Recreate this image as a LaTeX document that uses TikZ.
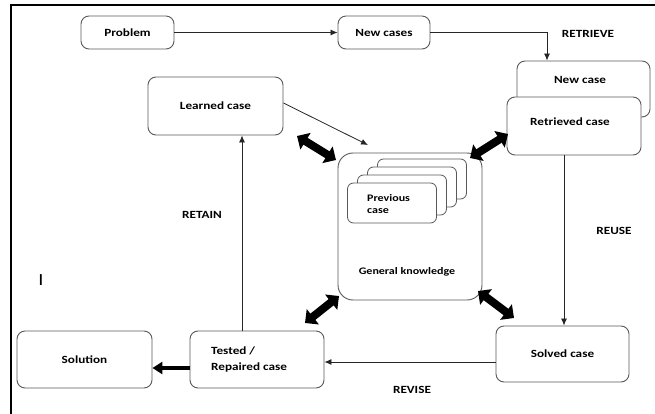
\documentclass[tikz,border=0pt]{standalone}
\usepackage{fontspec}
\setmainfont{Carlito}[FakeStretch=1.2]
\usetikzlibrary{arrows.meta,calc}
\begin{document}
\begin{tikzpicture}[x=1pt,y=-1pt,
  box/.style={draw=black!65, line width=0.9pt, rounded corners=8pt, fill=white,
    font=\fontsize{11}{13}\selectfont\bfseries, inner sep=0pt},
  card/.style={draw=black!65, line width=0.8pt, rounded corners=6pt, fill=white,
    minimum width=89pt, minimum height=40pt, inner sep=0pt},
  lbl/.style={font=\fontsize{11}{13}\selectfont\bfseries, inner sep=0pt},
  small/.style={font=\fontsize{10}{12}\selectfont\bfseries, inner sep=0pt, align=left},
  conn/.style={draw=black!85, line width=0.8pt, -{Latex[length=7pt,width=6pt]}},
  dbl/.style={line width=8pt, {Triangle[length=10pt,width=19pt]}-{Triangle[length=10pt,width=19pt]}},
]
\useasboundingbox (0,0) rectangle (655,414);
\fill[white] (0,0) rectangle (655,414);
\draw[line width=2pt] (655,5.5) -- (10.5,5.5) -- (10.5,414);

% boxes
\node[box, minimum width=93pt, minimum height=33pt] (problem) at (127.5,32.5) {Problem};
\node[box, minimum width=92pt, minimum height=33pt] (newcases) at (384,32.5) {New cases};
\node[box, minimum width=133pt, minimum height=56pt] (newcase) at (583.5,89) {};
\node[lbl] (newcasetxt) at (580,80) {New case};
\node[box, minimum width=134pt, minimum height=58pt] (retrieved) at (574,126) {};
\node[lbl] (retrievedtxt) at (570,122) {Retrieved case};
\node[box, minimum width=135pt, minimum height=58pt] (learned) at (215.5,106) {Learned case};
\node[box, minimum width=144pt, minimum height=147pt, rounded corners=15pt] (gk) at (410,226.5) {};
\node[card] (card4) at (422,179) {};
\node[card] (card3) at (412,187) {};
\node[card] (card2) at (402,195) {};
\node[card] (card1) at (392,203) {};
\node[small, anchor=west] (prev) at (367,204) {Previous\\case};
\node[small] (gktxt) at (407,272) {General knowledge};
\node[box, minimum width=133pt, minimum height=56pt] (solved) at (562.5,354) {Solved case};
\node[box, minimum width=134pt, minimum height=57pt] (tested) at (257,359.5) {};
\node[lbl, align=left, anchor=west, font=\fontsize{11}{16}\selectfont\bfseries] (testedtxt) at (211,360) {Tested /\\Repaired case};
\node[box, minimum width=135pt, minimum height=57pt] (solution) at (84.5,359.5) {Solution};

% labels
\node[lbl] (retrieve) at (588,34) {RETRIEVE};
\node[lbl] (reuse) at (614,231) {REUSE};
\node[lbl] (revise) at (412,390) {REVISE};
\node[lbl] (retain) at (202,215) {RETAIN};
\node[inner sep=0pt, font=\fontsize{17}{17}\selectfont] (stray) at (41,280) {I};

% connectors
\draw[conn] (problem.east) -- (newcases.west);
\draw[conn] (newcases.east) -| ([xshift=-36.5pt]newcase.north);
\draw[conn] ([xshift=-10pt]retrieved.south) -- ([xshift=-10pt]retrieved.south |- solved.north);
\draw[conn] ([yshift=-8pt]solved.west) -- ([yshift=-8pt]solved.west -| tested.east);
\draw[conn] ([xshift=-15pt]tested.north) -- ([xshift=-15pt]tested.north |- learned.south);
\coordinate (lk) at (368,145);
\draw[conn] ([yshift=3pt]learned.east) -- (lk);
\draw[line width=4.5pt, -{Triangle[length=10pt,width=12pt]}] ([yshift=-8.5pt]tested.west) -- ([yshift=-8.5pt]tested.west -| solution.east);

% thick double arrows
\coordinate (a1s) at (297,136); \coordinate (a1e) at (336,160);
\coordinate (a2s) at (470,158); \coordinate (a2e) at (508,134);
\coordinate (a3s) at (305,323); \coordinate (a3e) at (339,296);
\coordinate (a4s) at (478,291); \coordinate (a4e) at (514,318);
\draw[dbl] (a1s) -- (a1e);
\draw[dbl] (a2s) -- (a2e);
\draw[dbl] (a3s) -- (a3e);
\draw[dbl] (a4s) -- (a4e);
\end{tikzpicture}
\end{document}
